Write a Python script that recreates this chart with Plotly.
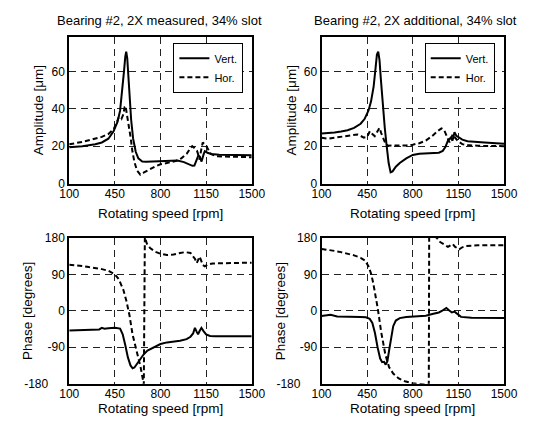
import plotly.graph_objects as go

# ---------------- data ----------------
x_ticks = [100, 450, 800, 1150, 1500]
amp_ticks = [0, 20, 40, 60]
phase_ticks = [-180, -90, 0, 90, 180]
phase_ticktext = ["-180\u00a0\u00a0\u00a0\u00a0\u00a0", "-90", "0", "90", "180"]

titles = ["Bearing #2, 2X measured, 34% slot", "Bearing #2, 2X additional, 34% slot"]
series_names = ["Vert.", "Hor."]

# top-left: measured amplitude
tl_v_rpm = [100, 150, 200, 250, 300, 350, 400, 440, 470, 490, 505, 520, 530, 537, 545, 560, 575, 590, 610, 630, 660,
            690, 750, 850, 930, 980, 1020, 1045, 1060, 1075, 1090, 1100, 1115, 1130, 1140, 1160, 1190, 1250, 1350, 1500]
tl_v_amp = [19.4, 19.6, 20, 20.5, 21, 22, 24, 28, 33, 39, 48, 60, 68, 70.5, 67, 50, 34, 24, 17, 13.5, 11.8,
            11.7, 11.8, 12.3, 12.3, 11.5, 10.5, 9.5, 9.6, 12.5, 15, 14.5, 11.8, 15.5, 17.3, 16.5, 15.8, 15.4, 15.2, 15.1]
tl_h_rpm = [100, 150, 200, 250, 300, 350, 400, 440, 460, 480, 500, 515, 525, 532, 540, 555, 570, 585, 600, 620, 645,
            670, 710, 760, 800, 850, 915, 960, 1002, 1025, 1043, 1060, 1080, 1092, 1100, 1112, 1124, 1150, 1185, 1230,
            1350, 1500]
tl_h_amp = [21, 21.5, 22.3, 23.2, 24, 25, 26.5, 29, 32, 35.5, 34.5, 37, 41, 41.5, 38, 32, 25, 17, 11.5, 7, 4.8,
            5.8, 7.5, 9.2, 10.3, 11.2, 12, 13.5, 16, 18.5, 20, 19, 17.5, 15, 12.8, 18, 22, 20.2, 15.9, 14.6, 14.3, 14.1]

# top-right: additional amplitude
tr_v_rpm = [100, 150, 200, 250, 300, 350, 400, 430, 460, 480, 500, 515, 525, 535, 545, 555, 570, 585, 600, 615, 630,
            645, 670, 700, 750, 800, 850, 900, 950, 1000, 1030, 1050, 1070, 1090, 1105, 1120, 1135, 1155, 1180, 1220,
            1280, 1350, 1500]
tr_v_amp = [26.8, 27, 27.3, 27.8, 28.5, 29.8, 32, 34.5, 39, 44, 52, 62, 69, 70.5, 66, 56, 42, 30, 20, 11, 6,
            6.5, 9, 11, 13.5, 15.3, 16, 16.3, 16.3, 16.5, 17.5, 19.5, 23, 24.5, 23, 27.5, 25.5, 24.5, 23.5, 22.7,
            22.3, 22, 21.3]
tr_h_rpm = [100, 150, 200, 250, 300, 350, 375, 400, 425, 450, 471, 490, 508, 525, 545, 558, 572, 590, 610, 650, 700,
            750, 800, 850, 900, 950, 990, 1020, 1040, 1058, 1072, 1082, 1095, 1106, 1125, 1150, 1180, 1220, 1300, 1500]
tr_h_amp = [24.5, 24, 24.5, 25, 25.3, 25.8, 26.3, 25.5, 24.6, 25, 28, 26.5, 25.4, 27.5, 29.8, 27, 24.5, 21.5, 20.3, 20.3, 20.3,
            20.4, 20.8, 21.6, 23, 25.5, 28, 29.5, 28.7, 26, 23.5, 22, 24.5, 26.3, 24.5, 22.5, 21.1, 20.6, 20.2, 20]

# bottom-left: measured phase
bl_v_rpm = [100, 150, 200, 250, 300, 330, 350, 370, 400, 450, 490, 510, 530, 550, 570, 586, 600, 620, 640, 670, 700,
            750, 800, 850, 900, 950, 1000, 1030, 1050, 1064, 1078, 1088, 1100, 1114, 1130, 1150, 1180, 1220, 1300, 1500]
bl_v_deg = [-48.5, -48, -47.5, -47, -46.5, -46, -42, -44, -43, -42, -44, -58, -85, -115, -135, -142, -140, -130, -120,
            -108, -98, -89, -82, -78, -76, -74, -70, -64, -56, -42, -52, -58, -50, -42, -50, -58, -62, -63, -63, -63]
bl_h_rpm = [100, 150, 200, 250, 300, 350, 400, 450, 480, 500, 515, 538, 562, 586, 615, 647, 672, 680, 695, 720,
            760, 800, 850, 900, 950, 990, 1030, 1050, 1065, 1078, 1090, 1100, 1112, 1125, 1140, 1160, 1200, 1300, 1500]
bl_h_deg = [114, 113, 111, 108, 106, 103, 99, 90, 78, 65, 52, 25, -11, -59, -99, -139, -182, 182, 166, 155,
            146, 141, 138, 139, 143, 145, 143, 135, 128, 118, 127, 134, 124, 113, 110, 114, 117, 118, 119]

# bottom-right: additional phase
br_v_rpm = [100, 130, 170, 220, 300, 400, 440, 470, 490, 510, 530, 550, 565, 580, 592, 605, 620, 635, 650, 670, 700,
            750, 800, 850, 900, 950, 1000, 1030, 1058, 1080, 1100, 1120, 1140, 1170, 1250, 1350, 1500]
br_v_deg = [-13, -12, -9.5, -14, -14, -15, -16, -20, -30, -55, -90, -118, -127, -126, -133, -125, -95, -60, -38, -24,
            -18, -15, -14, -13, -12, -8, -4, 1, 7, 1, -4, -2, -8, -15, -17, -18, -18]
br_h_rpm = [100, 150, 200, 250, 300, 350, 400, 435, 460, 480, 496, 515, 532, 557, 589, 618, 650, 692, 740, 800,
            850, 900, 923, 926, 950, 985, 1010, 1033, 1055, 1070, 1090, 1106, 1125, 1156, 1180, 1205, 1300, 1500]
br_h_deg = [153, 151, 148, 145, 141, 137, 131, 124, 110, 92, 70, 40, 5, -51, -107, -139, -155, -167, -174, -179,
            -181, -182, -182, 195, 188, 180, 170, 165, 160, 158, 162, 165, 158, 152, 157, 160, 162, 162]

# ---------------- figure ----------------
W, H = 540, 432
FONT = "Liberation Sans, Arial, sans-serif"

def px(x):
    return x / W

def py(y):
    return 1 - y / H

fig = go.Figure()

solid = dict(color="black", width=2)
dashed = dict(color="black", width=2, dash="5px,3px")

panels = [
    ("x", "y", tl_v_rpm, tl_v_amp, tl_h_rpm, tl_h_amp, "legend", True),
    ("x2", "y2", tr_v_rpm, tr_v_amp, tr_h_rpm, tr_h_amp, "legend2", True),
    ("x3", "y3", bl_v_rpm, bl_v_deg, bl_h_rpm, bl_h_deg, "legend", False),
    ("x4", "y4", br_v_rpm, br_v_deg, br_h_rpm, br_h_deg, "legend2", False),
]
for xa, ya, vx, vy, hx, hy, leg, show in panels:
    fig.add_trace(go.Scatter(x=vx, y=vy, mode="lines", line=solid, name=series_names[0],
                             xaxis=xa, yaxis=ya, legend=leg, showlegend=show))
    fig.add_trace(go.Scatter(x=hx, y=hy, mode="lines", line=dashed, name=series_names[1],
                             xaxis=xa, yaxis=ya, legend=leg, showlegend=show))

left_dom = [px(62), px(253)]
right_dom = [px(326), px(517)]
top_dom = [py(182.5), py(31)]
bot_dom = [py(389.3), py(238.7)]

common = dict(showline=True, linecolor="black", linewidth=2, mirror=True, ticks="", ticklen=0,
              showgrid=True, gridcolor="#222", gridwidth=1, griddash="7px,5px", zeroline=False,
              tickfont=dict(family=FONT, size=12, color="black"))

def xax(dom, anchor):
    return dict(domain=dom, anchor=anchor, range=[100, 1500], tickmode="array", tickvals=x_ticks,
                ticklabelstandoff=-2, **common)

def yax_amp(dom, anchor):
    return dict(domain=dom, anchor=anchor, range=[0, 78.4], tickmode="array", tickvals=amp_ticks, **common)

def yax_ph(dom, anchor):
    return dict(domain=dom, anchor=anchor, range=[-180, 180], tickmode="array", tickvals=phase_ticks,
                ticktext=phase_ticktext, **common)

leg_common = dict(xanchor="left", yanchor="top", bgcolor="white", bordercolor="black", borderwidth=1,
                  font=dict(family=FONT, size=11), tracegroupgap=0, itemwidth=30)

fig.update_layout(
    width=W, height=H, autosize=False,
    margin=dict(l=0, r=0, t=0, b=0),
    paper_bgcolor="white", plot_bgcolor="white",
    font=dict(family=FONT, size=12, color="black"),
    xaxis=xax(left_dom, "y"), yaxis=yax_amp(top_dom, "x"),
    xaxis2=xax(right_dom, "y2"), yaxis2=yax_amp(top_dom, "x2"),
    xaxis3=xax(left_dom, "y3"), yaxis3=yax_ph(bot_dom, "x3"),
    xaxis4=xax(right_dom, "y4"), yaxis4=yax_ph(bot_dom, "x4"),
    legend=dict(x=px(171), y=py(37), **leg_common),
    legend2=dict(x=px(434), y=py(37), **leg_common),
)

def ann(text, x, y, size=13, angle=0):
    fig.add_annotation(text=text, x=px(x), y=py(y), xref="paper", yref="paper", showarrow=False,
                       xanchor="center", yanchor="middle", textangle=angle,
                       font=dict(family=FONT, size=size, color="black"))

ann(titles[0], 156, 14)
ann(titles[1], 424, 14)
ann("Rotating speed [rpm]", 157.5, 213, 13.5)
ann("Rotating speed [rpm]", 421.5, 213, 13.5)
ann("Rotating speed [rpm]", 157.5, 415, 13.5)
ann("Rotating speed [rpm]", 421.5, 415, 13.5)
ann("Amplitude [\u03bcm]", 30, 107, 13.5, -90)
ann("Amplitude [\u03bcm]", 295, 107, 13.5, -90)
ann("Phase [degrees]", 19, 314, 13.5, -90)
ann("Phase [degrees]", 283, 314, 13.5, -90)

fig.write_html("out.html", config={"displayModeBar": False},
               post_script="document.body.style.margin='0';document.body.style.overflow='hidden';")
